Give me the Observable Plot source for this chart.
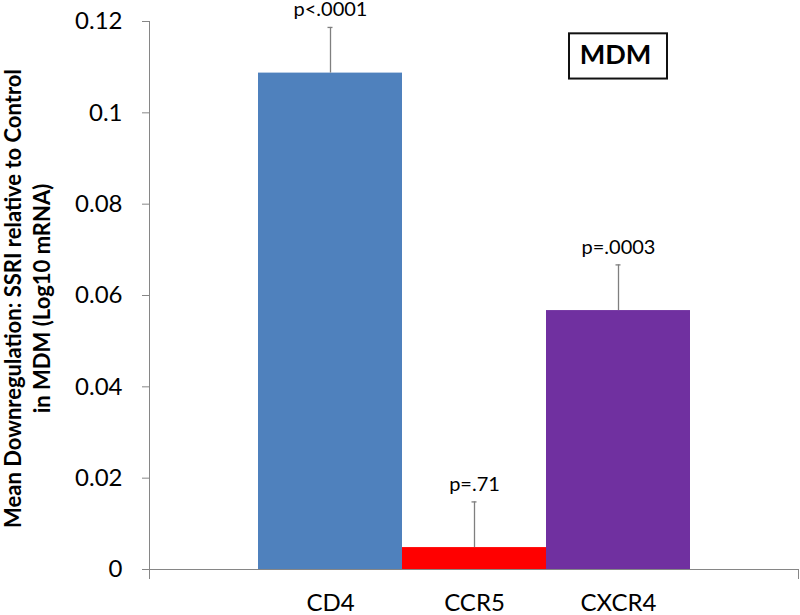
<!DOCTYPE html>
<html><head><meta charset="utf-8">
<script src="https://cdn.jsdelivr.net/npm/d3@7"></script>
<script src="https://cdn.jsdelivr.net/npm/@observablehq/plot@0.6"></script>
<style>body{margin:0;background:#fff}</style>
</head><body><div id="chart"></div>
<script>
const genes = ["CD4", "CCR5", "CXCR4"];
const means = [0.1087, 0.0048, 0.0567];
const errors = [0.0100, 0.0100, 0.0100];
const pValues = ["p<.0001", "p=.71", "p=.0003"];
const barColors = ["#4F81BD", "#FF0000", "#7030A0"];
const yTicks = [0, 0.02, 0.04, 0.06, 0.08, 0.1, 0.12];
const yLabelLines = ["Mean Downregulation: SSRI relative to Control", "in MDM (Log10 mRNA)"];
const panelLabel = ["MDM"];
const panelGene = ["CXCR4"];
const panelLow = [0.1074];
const panelHigh = [0.1173];
const panelMid = [0.1125];

const data = genes.map((g, i) => ({gene: g, mean: means[i], top: means[i] + errors[i], p: pValues[i]}));
const panel = panelLabel.map((l, i) => ({label: l, gene: panelGene[i], y1: panelLow[i], y2: panelHigh[i], y: panelMid[i]}));

const W = 800, H = 615, mL = 149, mR = 2, mT = 21, mB = 46;
const axisGray = "#868686";
const chart = Plot.plot({
  width: W, height: H,
  marginLeft: mL, marginRight: mR, marginTop: mT, marginBottom: mB,
  style: {fontFamily: "Lato, sans-serif", background: "#fff", color: "#000"},
  x: {domain: genes, paddingInner: 0, paddingOuter: 0.746, align: 0.5, label: null},
  y: {domain: [0, 0.12], label: null},
  color: {domain: genes, range: barColors},
  marks: [
    Plot.barY(data, {x: "gene", y: "mean", fill: "gene"}),
    Plot.ruleX(data, {x: "gene", y1: "mean", y2: "top", stroke: "#7f7f7f", strokeWidth: 1.3}),
    Plot.tickY(data, {x: "gene", y: "top", stroke: "#7f7f7f", strokeWidth: 1.3, insetLeft: 69.5, insetRight: 69.5}),
    Plot.text(data, {x: "gene", y: "top", text: "p", dy: -11, lineAnchor: "bottom", fontSize: 20, fill: "#000"}),
    Plot.frame({anchor: "left", stroke: axisGray, insetBottom: -9}),
    Plot.ruleY([0], {stroke: axisGray}),
    Plot.frame({anchor: "right", stroke: axisGray, insetTop: H - mT - mB, insetBottom: -9}),
    Plot.axisY({ticks: yTicks, tickFormat: d => String(d), tickSize: 7, tickPadding: 20, fontSize: 24, stroke: axisGray, fill: "#000"}),
    Plot.axisX({tickSize: 0, tickPadding: 24, fontSize: 24, fill: "#000"}),
    Plot.barY(panel, {x: "gene", y1: "y1", y2: "y2", fill: "none", stroke: "#111", strokeWidth: 2, insetLeft: 23, insetRight: 23}),
    Plot.text(panel, {x: "gene", y: "y", text: "label", fontWeight: "bold", fontSize: 27, dx: -3, fill: "#000"}),
    Plot.text([yLabelLines.join("\n")], {text: d => d, frameAnchor: "left", rotate: -90, dx: -123, dy: 3, fontSize: 22, fontWeight: "bold", lineHeight: 1.33, textAnchor: "middle", fill: "#000"})
  ]
});
document.getElementById("chart").appendChild(chart);
</script>
</body></html>
